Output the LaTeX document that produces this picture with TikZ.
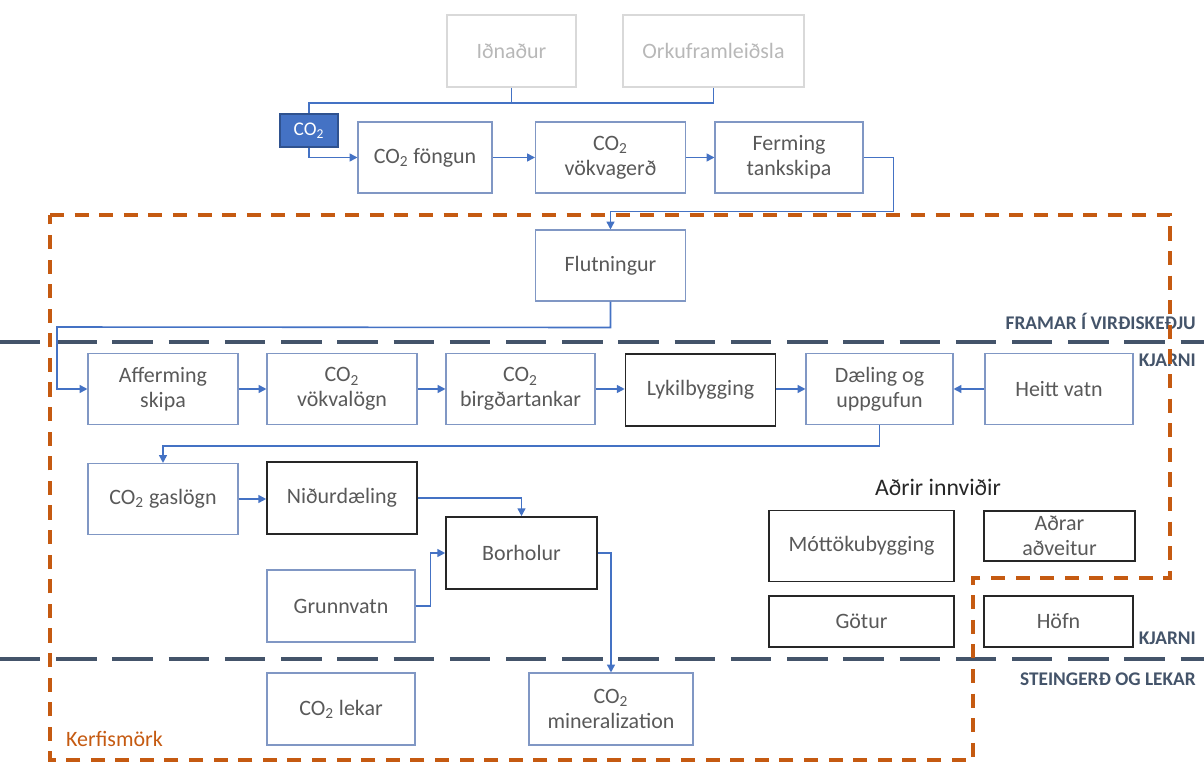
\documentclass[tikz,border=0pt]{standalone}
\usepackage{fontspec}
\setmainfont{Carlito}
\usepackage{xcolor}
\usepackage{tikz}
\usetikzlibrary{arrows.meta}

\definecolor{flowblue}{HTML}{4472C4}
\definecolor{boxblue}{HTML}{8097C4}
\definecolor{deepblue}{HTML}{2F528F}
\definecolor{textgray}{HTML}{595959}
\definecolor{slate}{HTML}{44546A}
\definecolor{rust}{HTML}{C55A11}

\newcommand{\cotwo}{CO\textsubscript{2}}

\begin{document}
\begin{tikzpicture}[x=0.02cm, y=-0.02cm, >={Triangle[length=4.5pt,width=4.5pt]},
  every node/.style={font=\fontsize{12.5}{14}\selectfont, text=textgray, align=center},
  box/.style={draw=boxblue, line width=0.6pt, rectangle, minimum width=3cm, minimum height=1.42cm, inner sep=0pt},
  keybox/.style={box, draw=black!85, line width=0.9pt},
  srcbox/.style={box, draw=black!15, text=black!28, minimum height=1.44cm},
  flow/.style={draw=flowblue, line width=0.9pt},
  stage/.style={draw=slate, line width=2.8pt, dash pattern=on 23pt off 9pt},
  stagelabel/.style={text=slate, font=\fontsize{11}{13}\selectfont\bfseries},
  boundary/.style={draw=rust, line width=2.2pt, dash pattern=on 8pt off 6pt}]

\useasboundingbox (0,0) rectangle (1204,763);

% Sources
\node (ind) [srcbox, minimum width=2.58cm] at (511.5,51) {Iðnaður};
\node (orka) [srcbox, minimum width=3.62cm] at (713.5,51) {Orkuframleiðsla};
\node (co2) [fill=flowblue, draw=deepblue, line width=0.6pt, text=white, font=\fontsize{11}{13}\selectfont, minimum width=1.16cm, minimum height=0.66cm, inner sep=0pt] at (309,130.5) {\cotwo};

% Capture and shipping
\node (fong) [box, minimum width=2.68cm] at (425,157.5) {\cotwo{} föngun};
\node (vokva) [box] at (610.5,157.5) {\cotwo\\vökvagerð};
\node (ferm) [box, minimum width=2.96cm] at (789,157.5) {Ferming\\tankskipa};
\node (flut) [box] at (610.5,265.5) {Flutningur};

% Core chain
\node (aff) [box] at (163,389) {Afferming\\skipa};
\node (vlogn) [box] at (342,389) {\cotwo\\vökvalögn};
\node (birg) [box, minimum width=2.98cm] at (520.5,389) {\cotwo\\birgðartankar};
\node (lyk) [keybox, minimum height=1.44cm] at (700.5,390) {Lykilbygging};
\node (dael) [box, minimum width=2.94cm] at (879.5,389) {Dæling og\\uppgufun};
\node (heitt) [box, minimum width=2.96cm] at (1059,389) {Heitt vatn};

\node (gas) [box] at (163,499) {\cotwo{} gaslögn};
\node (nidur) [keybox, minimum height=1.44cm] at (342,498) {Niðurdæling};
\node (bor) [keybox, minimum width=3.02cm, minimum height=1.44cm] at (521.5,553) {Borholur};
\node (grunn) [box, minimum width=2.96cm, minimum height=1.44cm] at (341,606) {Grunnvatn};

% Other infrastructure
\node (innv) [text=black!85, font=\fontsize{13.5}{15}\selectfont] at (938,487) {Aðrir innviðir};
\node (mott) [keybox, minimum width=3.7cm] at (861.5,546) {Móttökubygging};
\node (adrar) [keybox, minimum width=3.02cm, minimum height=1cm] at (1059.5,536) {Aðrar\\aðveitur};
\node (gotur) [keybox, minimum width=3.7cm, minimum height=1.02cm] at (861.5,621.5) {Götur};
\node (hofn) [keybox, minimum width=2.98cm, minimum height=1.02cm] at (1058.5,621.5) {Höfn};

% Storage and leakage
\node (lekar) [box, minimum width=2.96cm, minimum height=1.44cm] at (341,709) {\cotwo{} lekar};
\node (mineral) [box, minimum width=3.28cm, minimum height=1.44cm] at (611,709) {\cotwo\\mineralization};

% Stage lines
\draw[stage] (0,342) -- (1204,342);
\draw[stage] (0,659) -- (1204,659);
\node (framar) [stagelabel, anchor=base east] at (1202,330) {FRAMAR Í VIRÐISKEÐJU};
\node (kjarnitop) [stagelabel, anchor=base east] at (1202,367) {KJARNI};
\node (kjarnibot) [stagelabel, anchor=base east] at (1202,644) {KJARNI};
\node (steing) [stagelabel, anchor=base east] at (1202,685) {STEINGERÐ OG LEKAR};

% System boundary
\draw[boundary] (50,215) -- (1170,215) -- (1170,578) -- (973,578) -- (973,760) -- (50,760) -- cycle;
\node (kerfi) [text=rust, anchor=base west] at (60,746) {Kerfismörk};

% Flow arrows
\coordinate (join) at (co2.north |- 0,103);
\draw[flow] (ind.south) |- (join) -- (co2.north);
\draw[flow] (orka.south) |- (join);
\draw[flow, ->] (co2.south) |- (fong.west);
\draw[flow, ->] (fong) -- (vokva);
\draw[flow, ->] (vokva) -- (ferm);
\draw[flow, ->] (ferm.east) -- ++(30,0) -- ++(0,54) -| (flut.north);
\draw[flow, ->] (flut.south) -- ++(0,26) -- (57,327) |- (aff.west);
\draw[flow, ->] (aff) -- (vlogn);
\draw[flow, ->] (vlogn) -- (birg);
\draw[flow, ->] (birg) -- (birg -| lyk.west);
\draw[flow, ->] (lyk.east |- dael) -- (dael);
\draw[flow, ->] (heitt) -- (dael);
\draw[flow, ->] (dael.south) -- ++(0,21) -| (gas.north);
\draw[flow, ->] (gas) -- (gas -| nidur.west);
\draw[flow, ->] (nidur.east) -| (bor.north);
\draw[flow, ->] (grunn.east) -- ++(15,0) |- (bor.west);
\draw[flow, ->] (bor.east) -| (mineral.north);

\end{tikzpicture}
\end{document}
